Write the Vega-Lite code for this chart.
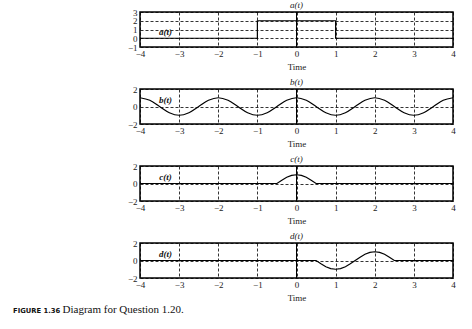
{
  "$schema": "https://vega.github.io/schema/vega-lite/v6.json",
  "padding": {"left": 13, "top": 0, "right": 5, "bottom": 5},
  "background": "white",
  "title": {
    "text": "FIGURE 1.36",
    "subtitle": "\u200b\u00a0\u00a0\u00a0\u00a0\u00a0\u00a0\u00a0\u00a0\u00a0\u00a0\u00a0\u00a0\u00a0\u00a0\u00a0\u00a0\u00a0\u00a0Diagram for Question 1.20.",
    "orient": "bottom",
    "anchor": "start",
    "frame": "group",
    "dx": -127,
    "offset": 5,
    "font": "DejaVu Sans",
    "fontWeight": "bold",
    "fontStyle": "normal",
    "fontSize": 6.8,
    "color": "#111",
    "subtitleFont": "Liberation Serif",
    "subtitleFontSize": 11,
    "subtitleColor": "#111",
    "subtitlePadding": -10.3
  },
  "datasets": {
    "fa": [
      {"t": -4, "v": 0}, {"t": -1, "v": 0}, {"t": -1, "v": 2}, {"t": 1, "v": 2}, {"t": 1, "v": 0}, {"t": 4, "v": 0}
    ],
    "fb": [
      {"t": -4, "v": 1}, {"t": -3.75, "v": 0.7071}, {"t": -3.5, "v": 0}, {"t": -3.25, "v": -0.7071},
      {"t": -3, "v": -1}, {"t": -2.75, "v": -0.7071}, {"t": -2.5, "v": 0}, {"t": -2.25, "v": 0.7071},
      {"t": -2, "v": 1}, {"t": -1.75, "v": 0.7071}, {"t": -1.5, "v": 0}, {"t": -1.25, "v": -0.7071},
      {"t": -1, "v": -1}, {"t": -0.75, "v": -0.7071}, {"t": -0.5, "v": 0}, {"t": -0.25, "v": 0.7071},
      {"t": 0, "v": 1}, {"t": 0.25, "v": 0.7071}, {"t": 0.5, "v": 0}, {"t": 0.75, "v": -0.7071},
      {"t": 1, "v": -1}, {"t": 1.25, "v": -0.7071}, {"t": 1.5, "v": 0}, {"t": 1.75, "v": 0.7071},
      {"t": 2, "v": 1}, {"t": 2.25, "v": 0.7071}, {"t": 2.5, "v": 0}, {"t": 2.75, "v": -0.7071},
      {"t": 3, "v": -1}, {"t": 3.25, "v": -0.7071}, {"t": 3.5, "v": 0}, {"t": 3.75, "v": 0.7071},
      {"t": 4, "v": 1}
    ],
    "fc": [
      {"t": -4, "v": 0}, {"t": -0.5, "v": 0}, {"t": -0.375, "v": 0.3827}, {"t": -0.25, "v": 0.7071},
      {"t": -0.125, "v": 0.9239}, {"t": 0, "v": 1}, {"t": 0.125, "v": 0.9239}, {"t": 0.25, "v": 0.7071},
      {"t": 0.375, "v": 0.3827}, {"t": 0.5, "v": 0}, {"t": 4, "v": 0}
    ],
    "fd": [
      {"t": -4, "v": 0}, {"t": 0.5, "v": 0}, {"t": 0.625, "v": -0.3827}, {"t": 0.75, "v": -0.7071},
      {"t": 0.875, "v": -0.9239}, {"t": 1, "v": -1}, {"t": 1.125, "v": -0.9239}, {"t": 1.25, "v": -0.7071},
      {"t": 1.375, "v": -0.3827}, {"t": 1.5, "v": 0}, {"t": 1.625, "v": 0.3827}, {"t": 1.75, "v": 0.7071},
      {"t": 1.875, "v": 0.9239}, {"t": 2, "v": 1}, {"t": 2.125, "v": 0.9239}, {"t": 2.25, "v": 0.7071},
      {"t": 2.375, "v": 0.3827}, {"t": 2.5, "v": 0}, {"t": 4, "v": 0}
    ],
    "zero": [{"t": 0}],
    "labels": [
      {"p": "a", "t": -3.35, "v": 0.7, "label": "a(t)"},
      {"p": "b", "t": -3.35, "v": 0.8, "label": "b(t)"},
      {"p": "c", "t": -3.35, "v": 0.8, "label": "c(t)"},
      {"p": "d", "t": -3.35, "v": 0.8, "label": "d(t)"}
    ]
  },
  "spacing": 42,
  "bounds": "flush",
  "vconcat": [
    {
      "width": 313, "height": 35, "title": "a(t)",
      "layer": [
        {"data": {"name": "fa"}, "mark": {"type": "line", "color": "black", "strokeWidth": 1.2},
         "encoding": {
           "x": {"field": "t", "type": "quantitative", "scale": {"domain": [-4, 4], "nice": false}, "axis": {"values": [-4, -3, -2, -1, 0, 1, 2, 3, 4], "title": "Time"}},
           "y": {"field": "v", "type": "quantitative", "scale": {"domain": [-1, 3], "nice": false}, "axis": {"values": [-1, 0, 1, 2, 3], "title": null}}}},
        {"data": {"name": "zero"}, "mark": {"type": "rule", "color": "black", "strokeWidth": 1},
         "encoding": {"x": {"field": "t", "type": "quantitative", "scale": {"domain": [-4, 4], "nice": false}, "axis": {"values": [-4, -3, -2, -1, 0, 1, 2, 3, 4], "title": "Time"}}}},
        {"data": {"name": "labels"}, "transform": [{"filter": "datum.p === 'a'"}],
         "mark": {"type": "text", "font": "Liberation Serif", "fontStyle": "italic", "fontWeight": "bold", "fontSize": 9, "color": "#111"},
         "encoding": {
           "x": {"field": "t", "type": "quantitative", "scale": {"domain": [-4, 4], "nice": false}, "axis": {"values": [-4, -3, -2, -1, 0, 1, 2, 3, 4], "title": "Time"}},
           "y": {"field": "v", "type": "quantitative", "scale": {"domain": [-1, 3], "nice": false}, "axis": {"values": [-1, 0, 1, 2, 3], "title": null}},
           "text": {"field": "label"}}}
      ]
    },
    {
      "width": 313, "height": 35, "title": "b(t)",
      "layer": [
        {"data": {"name": "fb"}, "mark": {"type": "line", "color": "black", "strokeWidth": 1.2, "interpolate": "monotone"},
         "encoding": {
           "x": {"field": "t", "type": "quantitative", "scale": {"domain": [-4, 4], "nice": false}, "axis": {"values": [-4, -3, -2, -1, 0, 1, 2, 3, 4], "title": "Time"}},
           "y": {"field": "v", "type": "quantitative", "scale": {"domain": [-2, 2], "nice": false}, "axis": {"values": [-2, 0, 2], "title": null}}}},
        {"data": {"name": "zero"}, "mark": {"type": "rule", "color": "black", "strokeWidth": 1},
         "encoding": {"x": {"field": "t", "type": "quantitative", "scale": {"domain": [-4, 4], "nice": false}, "axis": {"values": [-4, -3, -2, -1, 0, 1, 2, 3, 4], "title": "Time"}}}},
        {"data": {"name": "labels"}, "transform": [{"filter": "datum.p === 'b'"}],
         "mark": {"type": "text", "font": "Liberation Serif", "fontStyle": "italic", "fontWeight": "bold", "fontSize": 9, "color": "#111"},
         "encoding": {
           "x": {"field": "t", "type": "quantitative", "scale": {"domain": [-4, 4], "nice": false}, "axis": {"values": [-4, -3, -2, -1, 0, 1, 2, 3, 4], "title": "Time"}},
           "y": {"field": "v", "type": "quantitative", "scale": {"domain": [-2, 2], "nice": false}, "axis": {"values": [-2, 0, 2], "title": null}},
           "text": {"field": "label"}}}
      ]
    },
    {
      "width": 313, "height": 35, "title": "c(t)",
      "layer": [
        {"data": {"name": "fc"}, "mark": {"type": "line", "color": "black", "strokeWidth": 1.2},
         "encoding": {
           "x": {"field": "t", "type": "quantitative", "scale": {"domain": [-4, 4], "nice": false}, "axis": {"values": [-4, -3, -2, -1, 0, 1, 2, 3, 4], "title": "Time"}},
           "y": {"field": "v", "type": "quantitative", "scale": {"domain": [-2, 2], "nice": false}, "axis": {"values": [-2, 0, 2], "title": null}}}},
        {"data": {"name": "zero"}, "mark": {"type": "rule", "color": "black", "strokeWidth": 1},
         "encoding": {"x": {"field": "t", "type": "quantitative", "scale": {"domain": [-4, 4], "nice": false}, "axis": {"values": [-4, -3, -2, -1, 0, 1, 2, 3, 4], "title": "Time"}}}},
        {"data": {"name": "labels"}, "transform": [{"filter": "datum.p === 'c'"}],
         "mark": {"type": "text", "font": "Liberation Serif", "fontStyle": "italic", "fontWeight": "bold", "fontSize": 9, "color": "#111"},
         "encoding": {
           "x": {"field": "t", "type": "quantitative", "scale": {"domain": [-4, 4], "nice": false}, "axis": {"values": [-4, -3, -2, -1, 0, 1, 2, 3, 4], "title": "Time"}},
           "y": {"field": "v", "type": "quantitative", "scale": {"domain": [-2, 2], "nice": false}, "axis": {"values": [-2, 0, 2], "title": null}},
           "text": {"field": "label"}}}
      ]
    },
    {
      "width": 313, "height": 35, "title": "d(t)",
      "layer": [
        {"data": {"name": "fd"}, "mark": {"type": "line", "color": "black", "strokeWidth": 1.2},
         "encoding": {
           "x": {"field": "t", "type": "quantitative", "scale": {"domain": [-4, 4], "nice": false}, "axis": {"values": [-4, -3, -2, -1, 0, 1, 2, 3, 4], "title": "Time"}},
           "y": {"field": "v", "type": "quantitative", "scale": {"domain": [-2, 2], "nice": false}, "axis": {"values": [-2, 0, 2], "title": null}}}},
        {"data": {"name": "zero"}, "mark": {"type": "rule", "color": "black", "strokeWidth": 1},
         "encoding": {"x": {"field": "t", "type": "quantitative", "scale": {"domain": [-4, 4], "nice": false}, "axis": {"values": [-4, -3, -2, -1, 0, 1, 2, 3, 4], "title": "Time"}}}},
        {"data": {"name": "labels"}, "transform": [{"filter": "datum.p === 'd'"}],
         "mark": {"type": "text", "font": "Liberation Serif", "fontStyle": "italic", "fontWeight": "bold", "fontSize": 9, "color": "#111"},
         "encoding": {
           "x": {"field": "t", "type": "quantitative", "scale": {"domain": [-4, 4], "nice": false}, "axis": {"values": [-4, -3, -2, -1, 0, 1, 2, 3, 4], "title": "Time"}},
           "y": {"field": "v", "type": "quantitative", "scale": {"domain": [-2, 2], "nice": false}, "axis": {"values": [-2, 0, 2], "title": null}},
           "text": {"field": "label"}}}
      ]
    }
  ],
  "config": {
    "view": {"stroke": "black", "strokeWidth": 1.5},
    "axis": {
      "grid": true, "gridColor": "black", "gridDash": [3, 2], "gridWidth": 0.8, "gridOpacity": 1,
      "domain": false, "ticks": false,
      "labelFont": "Liberation Serif", "labelFontSize": 9, "labelColor": "#222", "labelPadding": 3,
      "labelFlush": false, "labelOverlap": false,
      "titleFont": "Liberation Serif", "titleFontWeight": "normal", "titleFontSize": 9, "titleColor": "#222"
    },
    "axisX": {"labelPadding": 2, "titlePadding": 4},
    "title": {"font": "Liberation Serif", "fontStyle": "italic", "fontWeight": "normal", "fontSize": 9, "color": "#222", "offset": -2}
  }
}
